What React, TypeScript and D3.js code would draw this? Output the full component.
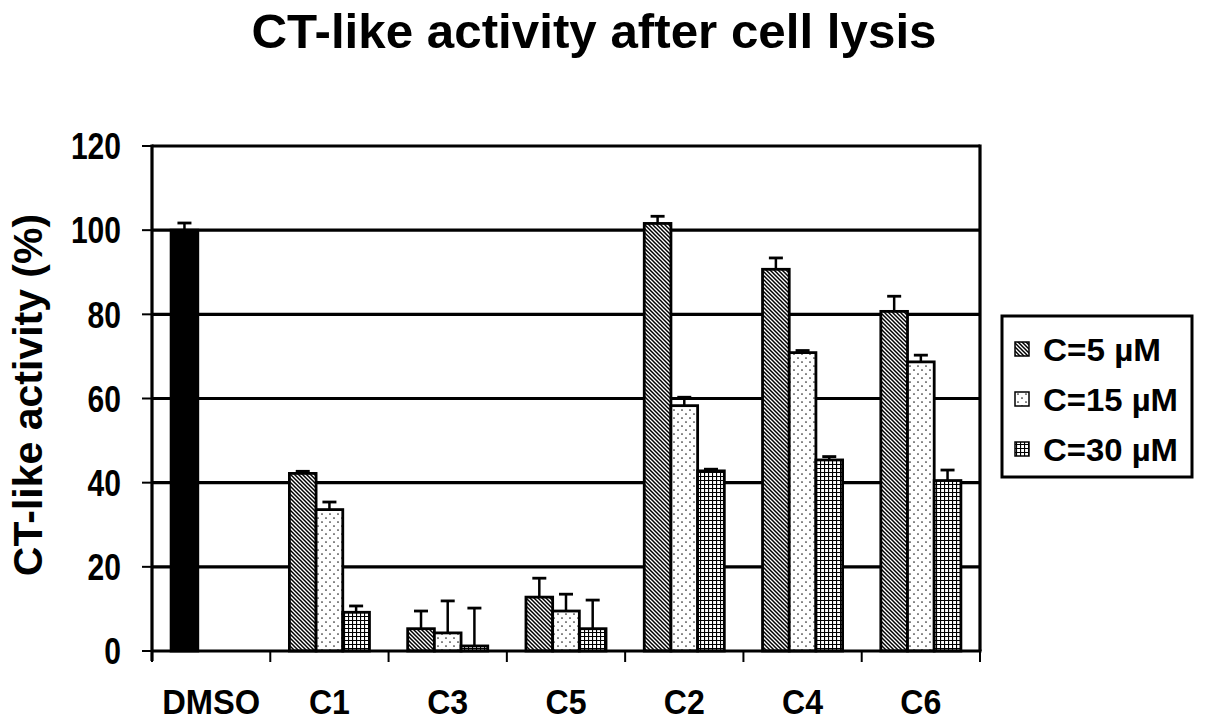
import * as d3 from "d3";

const WIDTH = 1205;
const HEIGHT = 728;
const PLOT = { left: 152, right: 980, top: 146, bottom: 651 };

const categories = ["DMSO", "C1", "C3", "C5", "C2", "C4", "C6"];
const series = ["C=5 µM", "C=15 µM", "C=30 µM"];
const patternIds = ["hatch", "dots", "grid"];

// control (black bar, drawn in the first series slot)
const dmsoValue = 100;
const dmsoError = 1.7;

// per compound, one value per series
const compounds = ["C1", "C3", "C5", "C2", "C4", "C6"];
const values5 = [42.2, 5.3, 12.8, 101.6, 90.7, 80.7];
const values15 = [33.6, 4.3, 9.5, 58.3, 70.9, 68.7];
const values30 = [9.2, 1.2, 5.3, 42.8, 45.4, 40.5];
const errors5 = [0.5, 4.2, 4.5, 1.7, 2.7, 3.6];
const errors15 = [1.8, 7.6, 4.0, 2.0, 0.5, 1.6];
const errors30 = [1.5, 9.0, 6.8, 0.4, 0.8, 2.5];

const yTicks = [0, 20, 40, 60, 80, 100, 120];

const FONT = "'Liberation Sans', Arial, Helvetica, sans-serif";

export default function App() {
  const x0 = d3
    .scaleBand<string>()
    .domain(categories)
    .range([PLOT.left, PLOT.right])
    .padding(0);
  const x1 = d3
    .scaleBand<string>()
    .domain(series)
    .range([0, x0.bandwidth()])
    .paddingInner(0)
    .paddingOuter(0.716);
  const y = d3.scaleLinear().domain([0, 120]).range([PLOT.bottom, PLOT.top]);

  const valueSets = [values5, values15, values30];
  const errorSets = [errors5, errors15, errors30];

  const bars: { key: string; x: number; v: number; e: number; fill: string }[] = [];
  bars.push({
    key: "dmso",
    x: x0("DMSO")! + x1(series[0])!,
    v: dmsoValue,
    e: dmsoError,
    fill: "#000",
  });
  compounds.forEach((c, i) => {
    series.forEach((s, j) => {
      bars.push({
        key: c + j,
        x: x0(c)! + x1(s)!,
        v: valueSets[j][i],
        e: errorSets[j][i],
        fill: `url(#${patternIds[j]})`,
      });
    });
  });

  const bw = x1.bandwidth();
  const boundaries = categories.map((c) => x0(c)!).concat([PLOT.right]);

  return (
    <div style={{ position: "absolute", left: 0, top: 0 }}>
      <svg width={WIDTH} height={HEIGHT} style={{ display: "block", background: "#fff" }}>
        <defs>
          <pattern id="hatch" width={4} height={4} patternUnits="userSpaceOnUse">
            <rect width={4} height={4} fill="#fff" />
            <path d="M0,0 L4,4 M-1,3 L1,5 M3,-1 L5,1" stroke="#000" strokeWidth={1.5} />
          </pattern>
          <pattern id="dots" width={8} height={8} patternUnits="userSpaceOnUse">
            <rect width={8} height={8} fill="#fff" />
            <circle cx={2} cy={2} r={0.85} fill="#222" />
            <circle cx={6} cy={6} r={0.85} fill="#222" />
          </pattern>
          <pattern id="grid" width={4} height={4} patternUnits="userSpaceOnUse">
            <rect width={4} height={4} fill="#fff" />
            <path d="M0.5,0 L0.5,4 M0,0.5 L4,0.5" stroke="#000" strokeWidth={1.2} />
          </pattern>
        </defs>

        {/* title */}
        <text
          x={594}
          y={48}
          textAnchor="middle"
          fontFamily={FONT}
          fontWeight="bold"
          fontSize={49}
          textLength={685}
          lengthAdjust="spacingAndGlyphs"
        >
          CT-like activity after cell lysis
        </text>

        {/* gridlines and frame */}
        {yTicks.slice(1).map((t) => (
          <line key={t} x1={PLOT.left} x2={PLOT.right} y1={y(t)} y2={y(t)} stroke="#000" strokeWidth={3.2} />
        ))}
        <line x1={PLOT.right} x2={PLOT.right} y1={PLOT.top - 1.5} y2={PLOT.bottom} stroke="#000" strokeWidth={3.2} />

        {/* y axis */}
        <line x1={PLOT.left} x2={PLOT.left} y1={PLOT.top - 1.5} y2={PLOT.bottom + 10} stroke="#000" strokeWidth={3.2} />
        {yTicks.map((t) => (
          <g key={t}>
            <line x1={PLOT.left - 10} x2={PLOT.left} y1={y(t)} y2={y(t)} stroke="#000" strokeWidth={2} />
            <text
              x={121}
              y={y(t)}
              dy="0.36em"
              textAnchor="end"
              fontFamily={FONT}
              fontWeight="bold"
              fontSize={37}
              textLength={String(t).length * 16.7}
              lengthAdjust="spacingAndGlyphs"
            >
              {t}
            </text>
          </g>
        ))}
        <text
          transform={`translate(42, 395) rotate(-90)`}
          textAnchor="middle"
          fontFamily={FONT}
          fontWeight="bold"
          fontSize={41}
        >
          CT-like activity (%)
        </text>

        {/* bars */}
        {bars.map((b) => (
          <g key={b.key}>
            <line
              x1={b.x + bw / 2}
              x2={b.x + bw / 2}
              y1={y(b.v)}
              y2={y(b.v + b.e)}
              stroke="#000"
              strokeWidth={2.5}
            />
            <line
              x1={b.x + bw / 2 - 7}
              x2={b.x + bw / 2 + 7}
              y1={y(b.v + b.e)}
              y2={y(b.v + b.e)}
              stroke="#000"
              strokeWidth={2.8}
            />
            <rect
              x={b.x}
              y={y(b.v)}
              width={bw}
              height={y(0) - y(b.v)}
              fill={b.fill}
              stroke="#000"
              strokeWidth={2.8}
            />
          </g>
        ))}

        {/* x axis */}
        <line x1={PLOT.left} x2={PLOT.right + 1.5} y1={PLOT.bottom} y2={PLOT.bottom} stroke="#000" strokeWidth={3.2} />
        {boundaries.map((bx, i) => (
          <line key={i} x1={bx} x2={bx} y1={PLOT.bottom} y2={PLOT.bottom + 11} stroke="#000" strokeWidth={2} />
        ))}
        {categories.map((c) => (
          <text
            key={c}
            x={x0(c)! + x0.bandwidth() / 2}
            y={714}
            textAnchor="middle"
            fontFamily={FONT}
            fontWeight="bold"
            fontSize={35}
            textLength={c === "DMSO" ? 98 : 41}
            lengthAdjust="spacingAndGlyphs"
          >
            {c}
          </text>
        ))}

        {/* legend */}
        <rect x={1002} y={316} width={190} height={161} fill="#fff" stroke="#000" strokeWidth={3} />
        {series.map((s, j) => {
          const cy = 349 + j * 50;
          return (
            <g key={s}>
              <rect x={1015} y={cy - 7} width={14} height={14} fill={`url(#${patternIds[j]})`} stroke="#000" strokeWidth={1.5} />
              <text
                x={1043}
                y={cy}
                dy="0.36em"
                fontFamily={FONT}
                fontWeight="bold"
                fontSize={32}
                textLength={j === 0 ? 118 : 135}
                lengthAdjust="spacingAndGlyphs"
              >
                {s}
              </text>
            </g>
          );
        })}
      </svg>
    </div>
  );
}
